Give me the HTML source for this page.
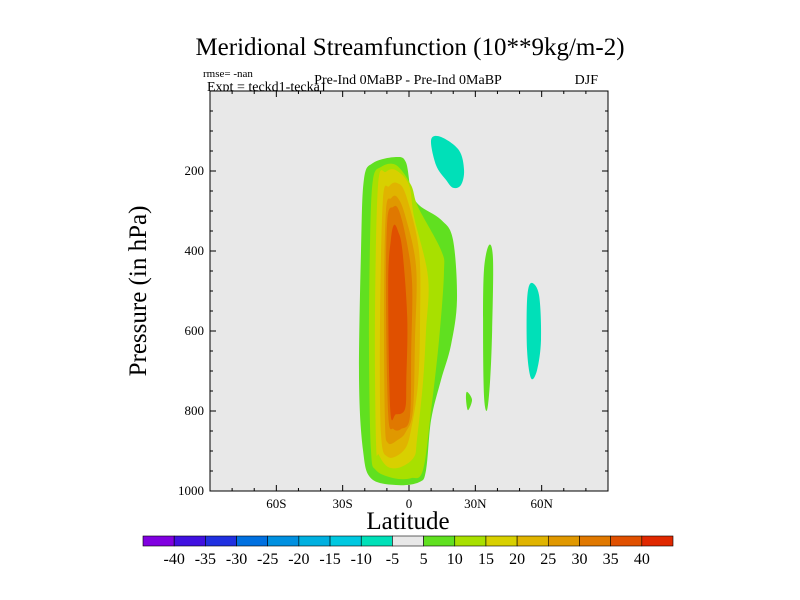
<!DOCTYPE html>
<html><head><meta charset="utf-8"><style>
body{margin:0;background:#fff;}
svg{display:block;font-family:"Liberation Serif",serif;}
</style></head><body>
<svg id="chart" width="800" height="600" viewBox="0 0 800 600" xmlns="http://www.w3.org/2000/svg">
<text x="410" y="55" font-size="25" text-anchor="middle">Meridional Streamfunction (10**9kg/m-2)</text>
<text x="203" y="77" font-size="11">rmse= -nan</text>
<text x="207" y="91" font-size="14">Expt = teckd1-tecka1</text>
<text x="408" y="84" font-size="14" text-anchor="middle">Pre-Ind 0MaBP - Pre-Ind 0MaBP</text>
<text x="598" y="84" font-size="14" text-anchor="end">DJF</text>
<rect x="210" y="91" width="398" height="400" fill="#e8e8e8"/>
<g id="fills"></g>
<rect x="210" y="91" width="398" height="400" fill="none" stroke="#000" stroke-width="1"/>
<g id="axes"></g>
<text x="408" y="529" font-size="25" text-anchor="middle">Latitude</text>
<text transform="translate(146,291) rotate(-90)" font-size="25" text-anchor="middle">Pressure (in hPa)</text>
<g id="cbar"></g>
</svg>
<script>
const latTicks=[-60,-30,0,30,60];
const latTickLabels=["60S","30S","0","30N","60N"];
const pTicks=[200,400,600,800,1000];
const cbarLabels=[-40,-35,-30,-25,-20,-15,-10,-5,5,10,15,20,25,30,35,40];
const cbarColors=["#8000e0","#4010e0","#2030e0","#0070e0","#0090e0","#00b0e0","#00c8e0","#00e0b8","#e8e8e8","#60e020","#a8e000","#d8d000","#e0b400","#e09800","#e07800","#e05000","#e02800"];
const levels=[5,10,15,20,25,30,35];
const level5=[[-20.4,222],[-16.3,180],[-5.9,165],[-1.4,178],[0.9,248],[4.5,285],[14.5,322],[19.9,372],[21.7,522],[19.0,635],[14.5,722],[10.0,822],[7.7,948],[4.5,978],[-5.9,985],[-17.2,968],[-20.8,898],[-22.6,722],[-21.7,398]];
const level10=[[-16.3,222],[-12.7,190],[-5.9,185],[0.9,235],[4.1,290],[14.5,398],[15.8,455],[13.6,622],[10.0,798],[6.3,948],[0.9,968],[-6.8,968],[-14.9,948],[-17.2,898],[-18.1,648],[-17.6,372]];
const level15=[[-14.0,235],[-10.4,202],[-5.9,198],[0,235],[2.3,315],[8.6,465],[7.7,598],[6.3,730],[3.6,872],[2.3,915],[-3.6,940],[-9.5,940],[-13.6,910],[-14.9,880],[-15.4,572]];
const level20=[[-11.8,272],[-9.0,238],[-5.4,230],[-1.4,260],[4.5,398],[5.0,572],[4.1,730],[0.9,848],[-2.3,898],[-9.5,915],[-12.7,855],[-13.1,572]];
const level25=[[-10.4,298],[-8.1,268],[-5.4,265],[-1.8,310],[3.2,440],[2.7,622],[1.8,798],[-1.4,852],[-5.0,872],[-9.5,880],[-10.9,822],[-11.3,522]];
const level30=[[-9.8,322],[-7.2,290],[-4.6,298],[-1.2,372],[1.4,480],[1.0,648],[0.4,815],[-3.6,845],[-7.0,845],[-9.4,810],[-10.4,522]];
const level35=[[-8.2,372],[-6.8,335],[-5.0,350],[-3.0,398],[-0.8,565],[-1.2,722],[-1.8,795],[-5.9,808],[-8.5,795],[-9.4,480]];
const negBlobNorth=[[10.0,122],[14.5,115],[22.6,148],[24.9,198],[23.5,235],[19.9,242],[16.7,222],[12.2,185]];
const negBlobMid=[[55.2,480],[58.8,510],[59.7,622],[57.9,698],[55.2,718],[53.4,648],[53.4,522]];
const posStripe=[[36.2,385],[38.0,422],[37.6,598],[36.7,722],[35.3,798],[33.9,760],[33.5,598],[33.9,448]];
const posSpot=[[26.2,752],[28.5,772],[26.7,798],[25.8,772]];

const X0=210,X1=608,Y0=91,Y1=491;
const xs=lat=>X0+(lat+90)/180*(X1-X0);
const ys=p=>Y0+p/1000*(Y1-Y0);
const NS="http://www.w3.org/2000/svg";
function mk(tag,attrs,parent){const e=document.createElementNS(NS,tag);for(const k in attrs)e.setAttribute(k,attrs[k]);parent.appendChild(e);return e;}
function smoothPath(pts){
  const P=pts.map(d=>[xs(d[0]),ys(d[1])]);const n=P.length;let s=`M${P[0][0]},${P[0][1]}`;
  for(let i=0;i<n;i++){const p0=P[(i-1+n)%n],p1=P[i],p2=P[(i+1)%n],p3=P[(i+2)%n];
    s+=` C${p1[0]+(p2[0]-p0[0])/6},${p1[1]+(p2[1]-p0[1])/6} ${p2[0]-(p3[0]-p1[0])/6},${p2[1]-(p3[1]-p1[1])/6} ${p2[0]},${p2[1]}`;}
  return s+"Z";
}
const fills=document.getElementById('fills');
const colorFor=v=>{const i=cbarLabels.findIndex(l=>l>v);return cbarColors[i<0?cbarColors.length-1:i];};
const shapes=[[level5,5],[level10,10],[level15,15],[level20,20],[level25,25],[level30,30],[level35,35],[negBlobNorth,-7],[negBlobMid,-7],[posStripe,7],[posSpot,7]];
shapes.forEach(([pts,v],i)=>{
  const e=mk('path',{d:smoothPath(pts),fill:colorFor(v)},fills);
  
  
});
const axes=document.getElementById('axes');
for(let lat=-80;lat<=80;lat+=10){
  const major=lat%30===0,len=major?6:3,x=xs(lat);
  mk('line',{x1:x,y1:Y1,x2:x,y2:Y1-len,stroke:'#000'},axes);
  mk('line',{x1:x,y1:Y0,x2:x,y2:Y0+len,stroke:'#000'},axes);
}
latTicks.forEach((l,i)=>{const t=mk('text',{x:xs(l),y:Y1+17,'font-size':13,'text-anchor':'middle'},axes);t.textContent=latTickLabels[i];
  
  });
for(let p=50;p<1000;p+=50){
  const major=p%200===0,len=major?6:3,y=ys(p);
  mk('line',{x1:X0,y1:y,x2:X0+len,y2:y,stroke:'#000'},axes);
  mk('line',{x1:X1,y1:y,x2:X1-len,y2:y,stroke:'#000'},axes);
}
pTicks.forEach(p=>{const t=mk('text',{x:X0-6,y:ys(p)+4,'font-size':13,'text-anchor':'end'},axes);t.textContent=p;
  
  });
const cb=document.getElementById('cbar');const cx0=143,cw=530/cbarColors.length;
cbarColors.forEach((c,i)=>{const r=mk('rect',{x:cx0+i*cw,y:536,width:cw,height:10,fill:c,stroke:'#000','stroke-width':0.6},cb);
  
  });
cbarLabels.forEach((l,i)=>{const t=mk('text',{x:cx0+(i+1)*cw,y:564,'font-size':16,'text-anchor':'middle'},cb);t.textContent=l;
  
  });
</script>
</body></html>
